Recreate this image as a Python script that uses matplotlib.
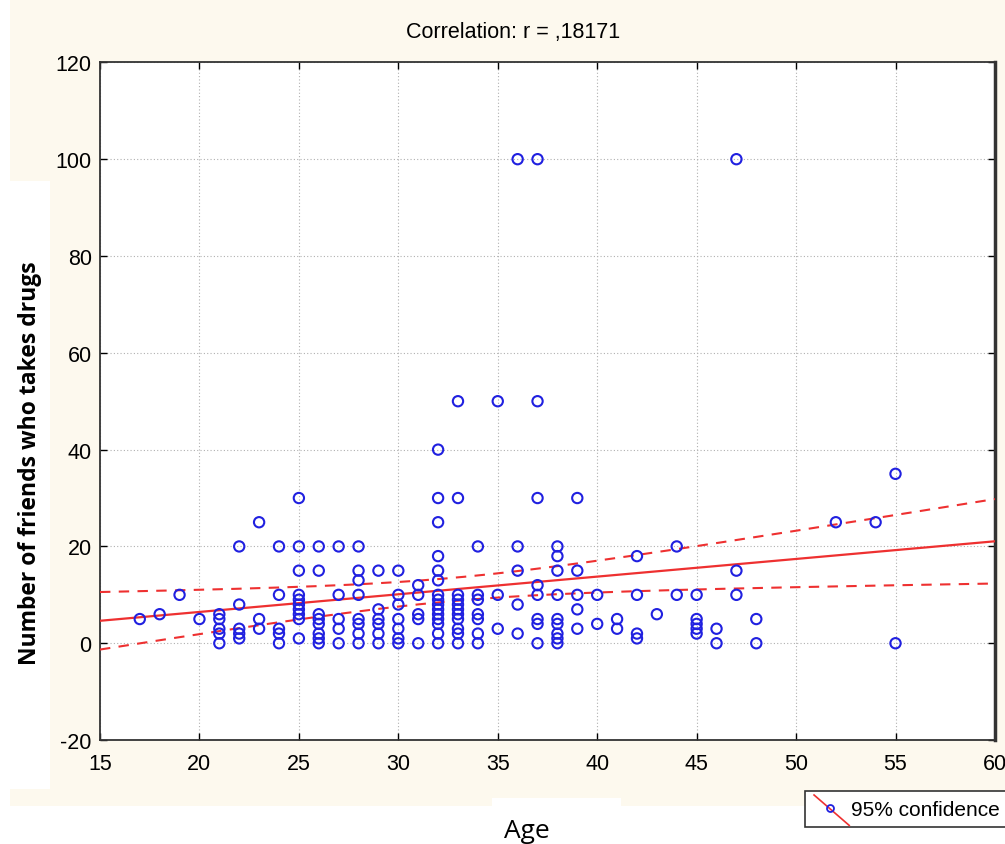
import numpy as np
import matplotlib.pyplot as plt
from matplotlib.patches import Rectangle
from matplotlib.lines import Line2D

plt.rcParams['axes.unicode_minus'] = False

# ages and number of friends
ages = {
    17: [5],
    18: [6],
    19: [10],
    20: [5],
    21: [6, 5, 3, 2, 0],
    22: [20, 8, 3, 2, 1],
    23: [25, 5, 3],
    24: [20, 10, 3, 2, 0],
    25: [30, 20, 15, 10, 9, 8, 7, 6, 5, 1],
    26: [20, 15, 6, 5, 4, 2, 1, 0],
    27: [20, 10, 5, 3, 0],
    28: [20, 15, 13, 10, 5, 4, 2, 0],
    29: [15, 7, 5, 4, 2, 0],
    30: [15, 10, 8, 5, 3, 1, 0],
    31: [12, 10, 6, 5, 0],
    32: [40, 30, 25, 18, 15, 13, 10, 9, 8, 7, 6, 5, 4, 2, 0],
    33: [50, 30, 10, 9, 8, 7, 6, 5, 3, 2, 0],
    34: [20, 10, 9, 6, 5, 2, 0],
    35: [50, 10, 3],
    36: [100, 20, 15, 8, 2],
    37: [100, 50, 30, 12, 10, 5, 4, 0],
    38: [20, 18, 15, 10, 5, 4, 2, 1, 0],
    39: [30, 15, 10, 7, 3],
    40: [10, 4],
    41: [5, 3],
    42: [18, 10, 2, 1],
    43: [6],
    44: [20, 10],
    45: [10, 5, 4, 3, 2],
    46: [3, 0],
    47: [100, 15, 10],
    48: [5, 0],
    52: [25],
    54: [25],
    55: [35, 0],
}
x = np.array([a for a, vals in ages.items() for v in vals], dtype=float)
y = np.array([v for a, vals in ages.items() for v in vals], dtype=float)

xticks = np.arange(15, 61, 5)
yticks = np.arange(-20, 121, 20)

# linear fit with 95% confidence band
b, a = np.polyfit(x, y, 1)
n = len(x)
resid = y - (a + b * x)
s = np.sqrt(np.sum(resid ** 2) / (n - 2))
sxx = np.sum((x - x.mean()) ** 2)
xx = np.linspace(15, 60, 200)
yy = a + b * xx
half = 1.97 * s * np.sqrt(1 / n + (xx - x.mean()) ** 2 / sxx)

cond = ['Liberation Sans Narrow', 'Liberation Sans', 'DejaVu Sans']

fig = plt.figure(figsize=(10.05, 8.45), dpi=100)
fig.patch.set_facecolor('white')
fig.add_artist(Rectangle((0.01, 0.045), 0.99, 0.955, transform=fig.transFigure,
                         facecolor='#fdf9ee', edgecolor='none', zorder=-5))
# white patches behind the axis labels
fig.add_artist(Rectangle((0.008, 0.065), 0.042, 0.72, transform=fig.transFigure,
                         facecolor='white', edgecolor='none', zorder=-4))
fig.add_artist(Rectangle((0.49, 0.0), 0.128, 0.055, transform=fig.transFigure,
                         facecolor='white', edgecolor='none', zorder=-4))

ax = fig.add_axes([0.0995, 0.123, 0.8905, 0.802])
ax.set_facecolor('white')
ax.plot(xx, yy, color='#ee3030', lw=1.6, zorder=3)
ax.plot(xx, yy + half, color='#ee3030', lw=1.5, ls=(0, (5, 4)), zorder=3)
ax.plot(xx, yy - half, color='#ee3030', lw=1.5, ls=(0, (5, 4)), zorder=3)
ax.scatter(x, y, s=55, facecolors='none', edgecolors='#2020e0', linewidths=1.5, zorder=4)

ax.set_xlim(15, 60)
ax.set_ylim(-20, 120)
ax.set_xticks(xticks)
ax.set_yticks(yticks)
ax.grid(True, color='#b0b0b0', ls=(0, (1, 2)), lw=0.8)
ax.tick_params(direction='in', top=True, right=True, length=5, width=1, pad=9,
               labelsize=15.5)
ax.tick_params(axis='y', pad=6)
for lab in ax.get_xticklabels() + ax.get_yticklabels():
    lab.set_family(cond)
for side, sp in ax.spines.items():
    sp.set_color('#333333')
    sp.set_linewidth(1.3)
ax.spines['right'].set_linewidth(2.5)

fig.text(0.511, 0.961, 'Correlation: r = ,18171', ha='center', va='center',
         fontsize=15.5, family=cond)
fig.text(0.03, 0.452, 'Number of friends who takes drugs', rotation=90,
         ha='center', va='center', fontsize=16.5, family='Open Sans', weight='bold')
fig.text(0.524, 0.016, 'Age', ha='center', va='center', fontsize=19, family='Open Sans')

# legend box running off the right edge
fig.add_artist(Rectangle((0.801, 0.020), 0.25, 0.043, transform=fig.transFigure,
                         facecolor='white', edgecolor='#333333', lw=1.2, zorder=5))
fig.add_artist(Line2D([0.810, 0.845], [0.058, 0.022], transform=fig.transFigure,
                      color='#ee3030', lw=1.2, zorder=6))
fig.add_artist(Line2D([0.826], [0.043], transform=fig.transFigure, marker='o',
                      ms=5, mfc='none', mec='#2020e0', mew=1.3, zorder=7))
fig.text(0.847, 0.041, '95% confidence', ha='left', va='center', fontsize=15,
         family=cond, zorder=7)

fig.savefig('out.png', dpi=100, facecolor=fig.get_facecolor())
